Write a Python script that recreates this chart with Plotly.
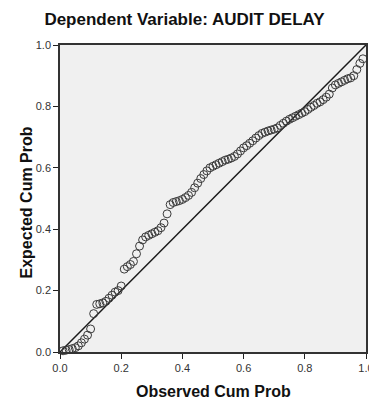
import plotly.graph_objects as go

title_text = "Dependent Variable: AUDIT DELAY"
x_title = "Observed Cum Prob"
y_title = "Expected Cum Prob"

observed = [0.01, 0.02, 0.03, 0.04, 0.05, 0.06, 0.07, 0.08, 0.09, 0.10,
            0.11, 0.12, 0.13, 0.14, 0.15, 0.16, 0.17, 0.18, 0.19, 0.20,
            0.21, 0.22, 0.23, 0.24, 0.25, 0.26, 0.27, 0.28, 0.29, 0.30,
            0.31, 0.32, 0.33, 0.34, 0.35, 0.36, 0.37, 0.38, 0.39, 0.40,
            0.41, 0.42, 0.43, 0.44, 0.45, 0.46, 0.47, 0.48, 0.49, 0.50,
            0.51, 0.52, 0.53, 0.54, 0.55, 0.56, 0.57, 0.58, 0.59, 0.60,
            0.61, 0.62, 0.63, 0.64, 0.65, 0.66, 0.67, 0.68, 0.69, 0.70,
            0.71, 0.72, 0.73, 0.74, 0.75, 0.76, 0.77, 0.78, 0.79, 0.80,
            0.81, 0.82, 0.83, 0.84, 0.85, 0.86, 0.87, 0.88, 0.89, 0.90,
            0.91, 0.92, 0.93, 0.94, 0.95, 0.96, 0.97, 0.98, 0.99]

expected = [0.004, 0.006, 0.008, 0.011, 0.014, 0.020, 0.030, 0.042, 0.055, 0.075,
            0.125, 0.155, 0.157, 0.160, 0.165, 0.175, 0.185, 0.195, 0.200, 0.215,
            0.270, 0.278, 0.285, 0.295, 0.320, 0.345, 0.365, 0.375, 0.380, 0.385,
            0.390, 0.395, 0.405, 0.420, 0.450, 0.480, 0.487, 0.490, 0.493, 0.497,
            0.503, 0.510, 0.520, 0.535, 0.550, 0.565, 0.578, 0.590, 0.600, 0.605,
            0.610, 0.615, 0.620, 0.625, 0.628, 0.632, 0.637, 0.645, 0.655, 0.665,
            0.672, 0.680, 0.688, 0.697, 0.705, 0.712, 0.716, 0.720, 0.723, 0.726,
            0.730, 0.738, 0.745, 0.752, 0.758, 0.763, 0.768, 0.773, 0.778, 0.783,
            0.790, 0.797, 0.803, 0.810, 0.815, 0.822, 0.830, 0.840, 0.860, 0.870,
            0.875, 0.880, 0.885, 0.890, 0.893, 0.900, 0.920, 0.940, 0.955]

diag_x = [0.0, 1.0]
diag_y = [0.0, 1.0]

tick_vals = [0.0, 0.2, 0.4, 0.6, 0.8, 1.0]
tick_text = ["0.0", "0.2", "0.4", "0.6", "0.8", "1.0"]

FONT = "Arial, 'Liberation Sans', sans-serif"

fig = go.Figure()
fig.add_trace(go.Scatter(x=diag_x, y=diag_y, mode="lines",
                         line=dict(color="#1a1a1a", width=1.5),
                         hoverinfo="skip", showlegend=False, cliponaxis=True))
fig.add_trace(go.Scatter(x=observed, y=expected, mode="markers",
                         marker=dict(symbol="circle-open", size=8,
                                     color="#3a3a3a", line=dict(width=1)),
                         showlegend=False, cliponaxis=False))

axis_common = dict(range=[0, 1], tickvals=tick_vals, ticktext=tick_text,
                   showgrid=False, zeroline=False, showline=True,
                   linecolor="#333333", linewidth=1.5, mirror=True,
                   ticks="outside", ticklen=5, tickcolor="#222222", tickwidth=1,
                   ticklabeloverflow="allow", automargin=False,
                   tickfont=dict(family=FONT, size=11, color="#333333"))

fig.update_layout(
    width=369, height=401,
    margin=dict(l=60, r=3, t=45, b=49, autoexpand=False),
    paper_bgcolor="white", plot_bgcolor="#f0f0f0",
    title=dict(text="<b>" + title_text + "</b>", x=0.5, xanchor="center",
               y=1 - 19 / 401, yanchor="middle", yref="container",
               font=dict(family=FONT, size=17, color="#111111")),
    xaxis=axis_common,
    yaxis=axis_common,
    annotations=[
        dict(text="<b>" + x_title + "</b>", xref="paper", yref="paper",
             x=0.5, y=0, yshift=-39, showarrow=False, yanchor="middle",
             font=dict(family=FONT, size=16, color="#111111")),
        dict(text="<b>" + y_title + "</b>", xref="paper", yref="paper",
             x=0, y=0.5, xshift=-34, yshift=-4, showarrow=False, textangle=-90,
             xanchor="center", yanchor="middle",
             font=dict(family=FONT, size=16, color="#111111")),
    ],
)

fig.write_html("out.html",
               config={"displayModeBar": False},
               post_script="document.body.style.margin='0';document.body.style.overflow='hidden';")
